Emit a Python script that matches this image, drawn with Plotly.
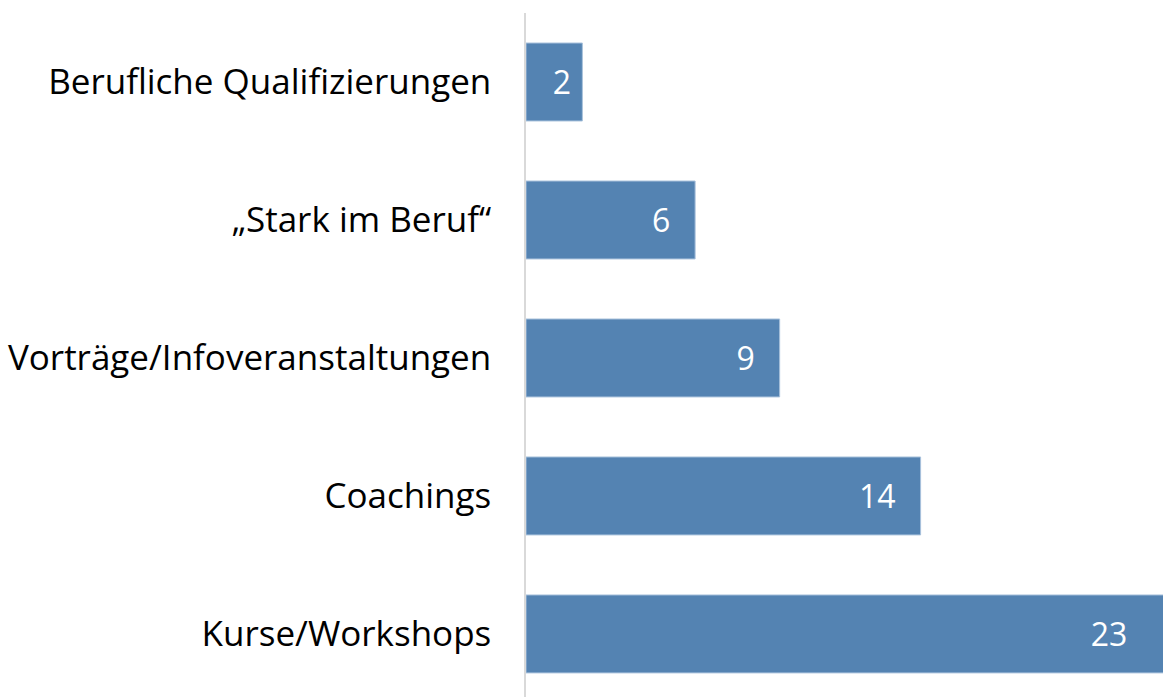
import plotly.graph_objects as go

categories = ["Kurse/Workshops", "Coachings", "Vorträge/Infoveranstaltungen",
              "„Stark im Beruf“", "Berufliche Qualifizierungen"]
values = [23, 14, 9, 6, 2]

NB = "\u00a0"
label_pad = [NB * 4 + "\u2009" * 2, NB * 2 + "\u2009", NB * 2 + "\u2009", NB * 2 + "\u2009", NB]
labels = [str(v) + p for v, p in zip(values, label_pad)]

BAR = "#5483B2"
FONT = "Open Sans"

fig = go.Figure(go.Bar(
    x=values, y=categories, orientation="h",
    marker=dict(color=BAR, line=dict(color="#A9C2DC", width=1)),
    text=labels, textposition="inside",
    insidetextanchor="end",
    textfont=dict(color="white", size=32, family=FONT),
    constraintext="none",
    cliponaxis=True,
    hoverinfo="skip",
))

fig.update_layout(
    width=1163, height=697,
    margin=dict(l=526, r=0, t=13, b=0),
    paper_bgcolor="white", plot_bgcolor="white",
    bargap=0.435,
    showlegend=False,
    font=dict(family=FONT, color="black"),
)
fig.update_xaxes(range=[0, 22.6], visible=False, showgrid=False, zeroline=False)
fig.update_yaxes(
    categoryorder="array", categoryarray=categories,
    range=[-0.457, 4.5],
    showline=True, linecolor="#D9D9D9", linewidth=1.5,
    ticks="", showgrid=False, zeroline=False,
    tickfont=dict(size=35, family=FONT, color="black"),
    ticklabelstandoff=26,
)
fig.write_html(
    "out.html",
    config={"displayModeBar": False},
    post_script="document.body.style.margin='0';document.body.style.overflow='hidden';",
)
